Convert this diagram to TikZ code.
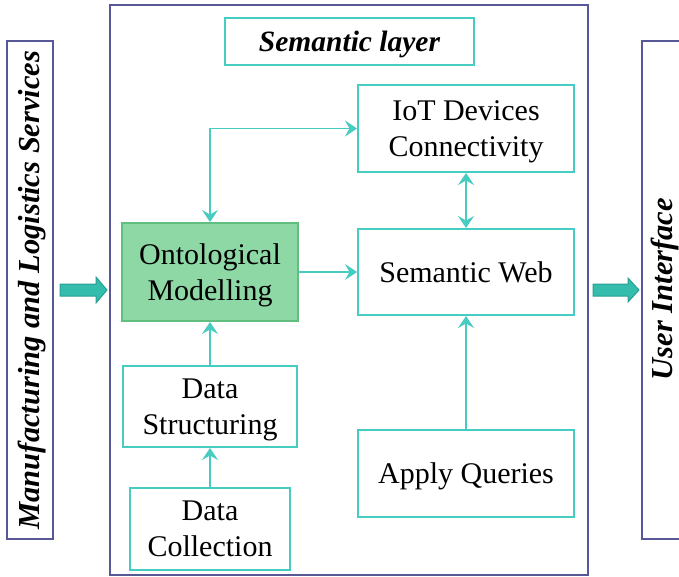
\documentclass[tikz,border=0pt]{standalone}
\usepackage{fontspec}
\setmainfont{Liberation Serif}
\usetikzlibrary{arrows.meta,calc}

\definecolor{tealline}{RGB}{70,204,192}
\definecolor{navyline}{RGB}{88,88,150}
\definecolor{greenfill}{RGB}{142,216,166}
\definecolor{greenline}{RGB}{96,190,128}
\definecolor{blockfill}{RGB}{52,188,172}
\definecolor{blockline}{RGB}{40,160,148}

\tikzset{
  stepbox/.style={draw=tealline, line width=2pt, fill=white, align=center,
    inner sep=0pt, text depth=0pt, font=\fontsize{30}{36}\selectfont},
  modelbox/.style={stepbox, draw=greenline, fill=greenfill},
  titlebox/.style={stepbox, font=\fontsize{29.5}{36}\selectfont\bfseries\itshape},
  frame/.style={draw=navyline, line width=2pt},
  sidetext/.style={rotate=90, font=\fontsize{30.5}{36}\selectfont\bfseries\itshape},
  tip/.tip={Stealth[length=12pt,width=16pt,inset=4.5pt]},
  link/.style={draw=tealline, line width=1.5pt, -tip},
  dlink/.style={link, tip-tip},
  blockarrow/.style={fill=blockfill, draw=blockline, line width=1pt, line join=miter}
}

\begin{document}
\begin{tikzpicture}[x=1pt, y=-1pt]
\useasboundingbox (0,0) rectangle (679,576);
\clip (0,0) rectangle (679,576);

% outer frames
\node[frame, minimum width=46pt, minimum height=498pt, inner sep=0pt] (lft) at (30,290) {};
\node[frame, minimum width=478pt, minimum height=570pt, inner sep=0pt] (main) at (349,290) {};
\node[frame, minimum width=80pt, minimum height=498pt, inner sep=0pt] (rgt) at (682,290) {};

% side labels
\node[sidetext] (lftlabel) at (32,290) {Manufacturing and Logistics Services};
\node[sidetext] (rgtlabel) at (665,289) {User Interface};

% semantic layer boxes
\node[titlebox, minimum width=249pt, minimum height=47pt] (sem) at (349.5,41.5) {Semantic layer};
\node[stepbox, minimum width=216pt, minimum height=87pt] (iot) at (466,128.5) {IoT Devices\\Connectivity};
\node[stepbox, minimum width=216pt, minimum height=86pt] (sw) at (466,272) {Semantic Web};
\node[stepbox, minimum width=216pt, minimum height=87pt] (aq) at (466,473.5) {Apply Queries};
\node[modelbox, minimum width=176pt, minimum height=98pt] (onto) at (210,272) {Ontological\\Modelling};
\node[stepbox, minimum width=174pt, minimum height=81pt] (ds) at (210,406.5) {Data\\Structuring};
\node[stepbox, minimum width=160pt, minimum height=82pt] (dc) at (210,529) {Data\\Collection};

% connectors
\draw[dlink] (onto.north) |- (iot.west);
\draw[dlink] (iot.south) -- (sw.north);
\draw[link] (onto.east) -- (sw.west);
\draw[link] (ds.north) -- (onto.south);
\draw[link] (dc.north) -- (ds.south);
\draw[link] (aq.north) -- (sw.south);

% block arrows between the frames
\draw[blockarrow] ($(lft.east)+(6,-6)$) -- ++(36,0) -- ++(0,-7) -- ($(main.west)+(-2,0)$)
  -- ($(lft.east)+(42,13)$) -- ++(0,-7) -- ($(lft.east)+(6,6)$) -- cycle;
\draw[blockarrow] ($(main.east)+(4,-6)$) -- ++(35,0) -- ++(0,-6) -- ($(rgt.west)+(-2,0)$)
  -- ($(main.east)+(39,12)$) -- ++(0,-6) -- ($(main.east)+(4,6)$) -- cycle;
\end{tikzpicture}
\end{document}
